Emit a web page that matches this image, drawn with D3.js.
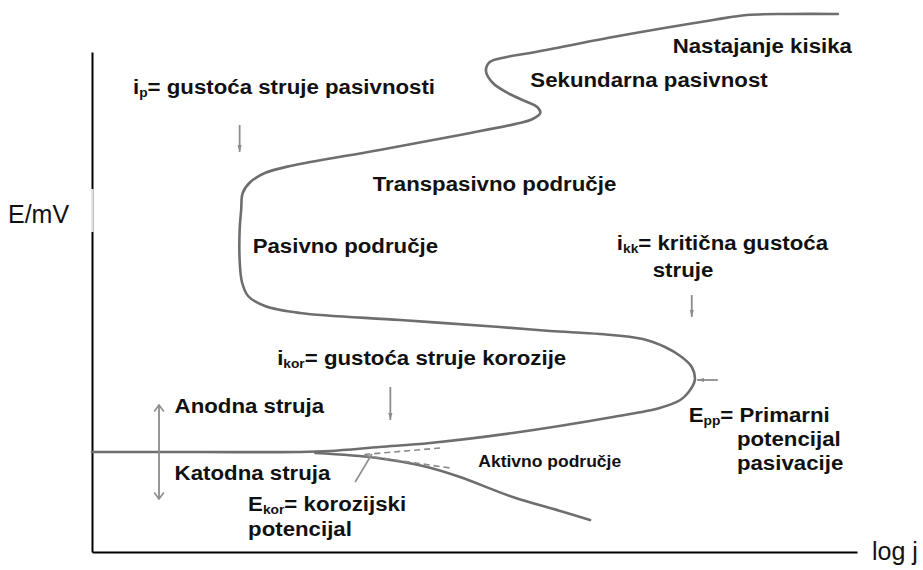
<!DOCTYPE html>
<html lang="hr">
<head>
<meta charset="UTF-8">
<title>Polarizacijska krivulja</title>
<style>
  body { margin: 0; background: #fff; }
  svg  { display: block; background: #fff; }

  .curve   { fill: none; stroke: #6e6e6e; stroke-width: 2.6; stroke-linejoin: round; stroke-linecap: round; }
  .dash    { fill: none; stroke: #8a8a8a; stroke-width: 1.6; stroke-dasharray: 6 4; }
  .pointer { fill: none; stroke: #8c8c8c; stroke-width: 1.6; }
  .arrow   { fill: none; stroke: #8c8c8c; stroke-width: 1.8; }
  .axis path { stroke: #000; stroke-width: 2; }

  .lbl      { font: bold 21px "Liberation Sans", Arial, sans-serif; fill: #111; }
  .lbl.small { font-size: 16.5px; }
  .ax-title { font: 25px "Liberation Sans", Arial, sans-serif; fill: #111; }
</style>
</head>
<body>
<svg id="chart" width="923" height="570"></svg>

<script src="https://d3js.org/d3.v7.min.js"></script>
<script>
/* ---------------- Data (log j in arbitrary units, E in mV) ---------------- */
// anodna krivulja: aktivno -> primarna pasivacija -> pasivno -> transpasivno -> sekundarna pasivnost -> kisik
const anodicLogJ = [0, 14.1, 27.2, 31.1, 37.6, 44.2, 55.0, 68.1, 74.2, 76.9, 78.0, 78.8,
                    78.4, 76.9, 74.9, 72.0, 66.4, 59.9, 53.3, 40.3, 27.2, 22.6, 20.4, 19.6,
                    19.3, 19.3, 19.5, 19.7, 20.7, 22.6, 25.9, 37.6, 48.1, 55.9, 57.6, 58.6,
                    58.2, 56.9, 54.6, 52.4, 51.5, 52.0, 54.2, 57.3, 68.1, 81.2, 85.6, 91.2, 97.5];
const anodicE    = [200, 200, 200, 202, 210, 218, 238, 270, 288, 304, 320, 344,
                    370, 392, 410, 426, 436, 442, 450, 464, 478, 492, 512, 540,
                    584, 644, 684, 718, 740, 758, 772, 804, 834, 858, 866, 878,
                    890, 900, 916, 938, 962, 980, 990, 998, 1030, 1064, 1074, 1076, 1076];

// katodna grana
const cathodicLogJ = [29.2, 37.3, 43.8, 48.1, 55.0, 61.2, 65.1];
const cathodicE    = [198, 188, 170, 150, 110, 82, 64];

// Tafelove ekstrapolacije (isprekidano) i pokazivac E_kor
const tafelUpper = [[35.6, 195], [45.5, 208]];
const tafelLower = [[35.6, 193], [46.8, 168]];
const ekorPointer = [[36.6, 196], [34.4, 140]];

// strelice: [logJ1, E1, logJ2, E2]
const doubleArrow = [8.76, 294, 8.76, 106];
const downArrows  = [[19.3, 854, 19.3, 800], [39.0, 330, 39.0, 264], [78.4, 514, 78.4, 470], [81.8, 344, 79.1, 344]];

// oznake: glavni tekst, indeks, nastavak, polozaj (logJ, E)
const labels = [
  { t: 'i', sub: 'p',   rest: '= gustoća struje pasivnosti', lj: 5.36, e: 916 },
  { t: 'Nastajanje kisika',                                  lj: 75.9, e: 998 },
  { t: 'Sekundarna pasivnost',                               lj: 57.3, e: 930 },
  { t: 'Transpasivno područje',                              lj: 36.7, e: 722 },
  { t: 'Pasivno područje',                                   lj: 21.0, e: 598 },
  { t: 'i', sub: 'kk',  rest: '= kritična gustoća',          lj: 68.6, e: 604 },
  { t: 'struje',                                             lj: 73.3, e: 550 },
  { t: 'i', sub: 'kor', rest: '= gustoća struje korozije',   lj: 24.2, e: 374 },
  { t: 'Anodna struja',                                      lj: 10.8, e: 278 },
  { t: 'Katodna struja',                                     lj: 10.8, e: 144 },
  { t: 'E', sub: 'kor', rest: '= korozijski',                lj: 20.4, e: 82 },
  { t: 'potencijal',                                         lj: 20.4, e: 32 },
  { t: 'Aktivno područje', small: true,                      lj: 50.5, e: 170 },
  { t: 'E', sub: 'pp',  rest: '= Primarni',                  lj: 78.0, e: 260 },
  { t: 'potencijal',                                         lj: 84.3, e: 212 },
  { t: 'pasivacije',                                         lj: 84.3, e: 164 }
];

/* ---------------- Scales ---------------- */
const svg = d3.select('#chart');
const x = d3.scaleLinear().domain([0, 100]).range([92, 857]);
const y = d3.scaleLinear().domain([0, 1000]).range([552, 52]);

/* ---------------- Markers ---------------- */
const defs = svg.append('defs');
defs.append('marker')
    .attr('id', 'chev').attr('viewBox', '0 0 10 14')
    .attr('refX', 9).attr('refY', 7)
    .attr('markerWidth', 8).attr('markerHeight', 12)
    .attr('markerUnits', 'userSpaceOnUse')
    .attr('orient', 'auto-start-reverse')
  .append('path').attr('d', 'M1,1 L9,7 L1,13')
    .attr('fill', 'none').attr('stroke', '#8c8c8c').attr('stroke-width', 2);
defs.append('marker')
    .attr('id', 'tip').attr('viewBox', '0 0 10 6')
    .attr('refX', 10).attr('refY', 3)
    .attr('markerWidth', 7).attr('markerHeight', 5)
    .attr('markerUnits', 'userSpaceOnUse')
    .attr('orient', 'auto')
  .append('path').attr('d', 'M0,0 L10,3 L0,6 Z').attr('fill', '#8c8c8c');

/* ---------------- Axes (lines only) ---------------- */
svg.append('g').attr('class', 'axis')
   .attr('transform', `translate(0,${y(0)})`)
   .call(d3.axisBottom(x).tickValues([]).tickSizeOuter(0));
svg.append('g').attr('class', 'axis')
   .attr('transform', `translate(${x(0)},0)`)
   .call(d3.axisLeft(y).tickValues([]).tickSizeOuter(0));

// svijetli dio osi uz oznaku E/mV
svg.append('line')
   .attr('x1', x(0)).attr('x2', x(0)).attr('y1', y(726)).attr('y2', y(640))
   .attr('stroke', '#fff').attr('stroke-width', 3);
svg.append('line')
   .attr('x1', x(0)).attr('x2', x(0)).attr('y1', y(726)).attr('y2', y(640))
   .attr('stroke', '#c8c8c8').attr('stroke-width', 1);

svg.append('text').attr('class', 'ax-title')
   .attr('x', 8).attr('y', y(658)).text('E/mV');
svg.append('text').attr('class', 'ax-title')
   .attr('x', 872).attr('y', y(0) + 8).text('log j');

/* ---------------- Curves ---------------- */
const line = d3.line().x(d => x(d[0])).y(d => y(d[1])).curve(d3.curveCatmullRom.alpha(0.5));
const straight = d3.line().x(d => x(d[0])).y(d => y(d[1]));

svg.append('path').attr('class', 'curve')
   .attr('d', line(d3.zip(anodicLogJ, anodicE)));
svg.append('path').attr('class', 'curve')
   .attr('d', line(d3.zip(cathodicLogJ, cathodicE)));

svg.append('path').attr('class', 'dash').attr('d', straight(tafelUpper));
svg.append('path').attr('class', 'dash').attr('d', straight(tafelLower));
svg.append('path').attr('class', 'pointer').attr('d', straight(ekorPointer));

/* ---------------- Arrows ---------------- */
svg.append('line').attr('class', 'arrow')
   .attr('x1', x(doubleArrow[0])).attr('y1', y(doubleArrow[1]))
   .attr('x2', x(doubleArrow[2])).attr('y2', y(doubleArrow[3]))
   .attr('marker-start', 'url(#chev)').attr('marker-end', 'url(#chev)');

svg.selectAll('line.down')
  .data(downArrows)
  .enter().append('line')
    .attr('class', 'arrow down')
    .attr('x1', d => x(d[0])).attr('y1', d => y(d[1]))
    .attr('x2', d => x(d[2])).attr('y2', d => y(d[3]))
    .attr('marker-end', 'url(#tip)');

/* ---------------- Labels ---------------- */
const lbl = svg.selectAll('g.label')
  .data(labels)
  .enter().append('g')
    .attr('class', 'label')
    .attr('transform', d => `translate(${x(d.lj)},${y(d.e)}) scale(1.06,1)`);

lbl.append('text')
   .attr('class', d => d.small ? 'lbl small' : 'lbl')
   .each(function (d) {
     const t = d3.select(this);
     t.append('tspan').text(d.t);
     if (d.sub) {
       t.append('tspan').attr('font-size', 13).attr('dy', 3).text(d.sub);
       t.append('tspan').attr('dy', -3).text(d.rest);
     }
   });
</script>
</body>
</html>
